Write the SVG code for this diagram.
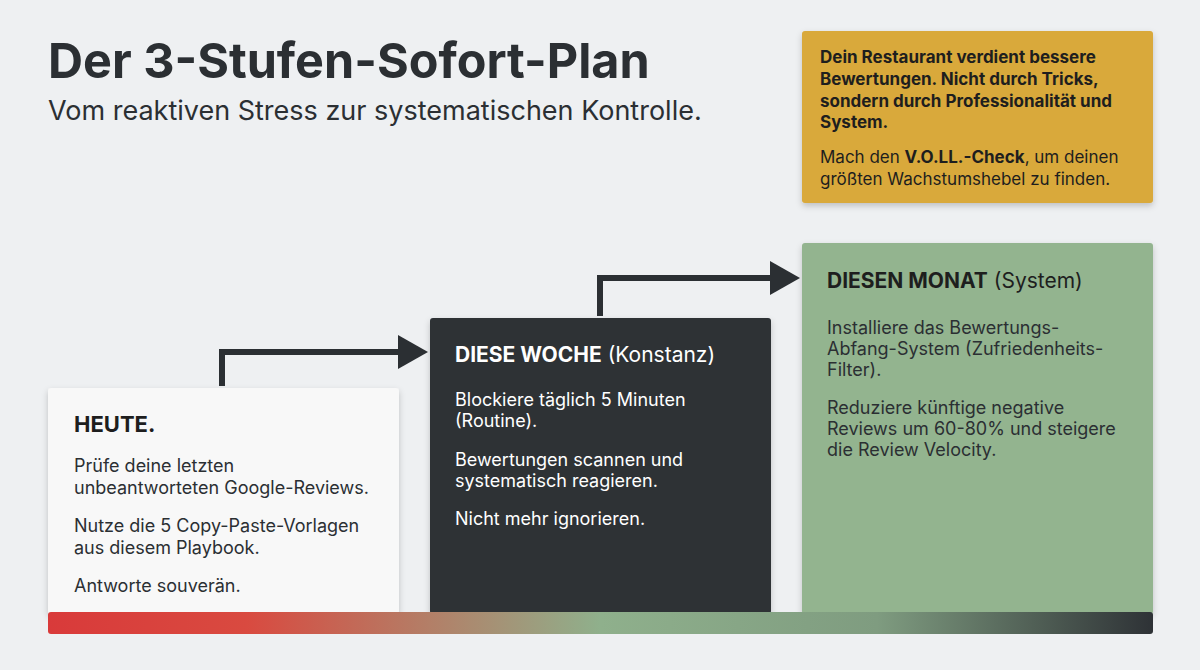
<svg xmlns="http://www.w3.org/2000/svg" width="1200" height="670" viewBox="0 0 1200 670">
<defs>
<linearGradient id="g" x1="0" x2="1" y1="0" y2="0">
<stop offset="0" stop-color="#d93a3a"/><stop offset="0.18" stop-color="#d94a40"/><stop offset="0.5" stop-color="#8fb08c"/><stop offset="0.75" stop-color="#7f9c80"/><stop offset="1" stop-color="#2e3236"/>
</linearGradient>
<marker id="ah" markerWidth="30" markerHeight="34" refX="2" refY="17" orient="auto" markerUnits="userSpaceOnUse" viewBox="0 0 30 34"><path d="M0,0 L30,17 L0,34 z" fill="#2b2f33"/></marker>
<filter id="sh" x="-10%" y="-10%" width="120%" height="130%"><feDropShadow dx="0" dy="3" stdDeviation="3" flood-opacity="0.2"/></filter>
</defs>
<style>
text{font-family:Inter,"Liberation Sans",sans-serif;}
.b{font-size:18px;fill:#2b2f33}
.w{font-size:18px;fill:#ffffff}
.yb{font-size:17px;font-weight:bold;fill:#1e1e1e}
.yn{font-size:17px;fill:#1e1e1e}
</style>
<rect width="1200" height="670" fill="#eef0f2"/>
<text x="48" y="78" font-size="48.5" font-weight="bold" fill="#2b2f33">Der 3-Stufen-Sofort-Plan</text>
<text x="48" y="120" font-size="27" fill="#2b2f33">Vom reaktiven Stress zur systematischen Kontrolle.</text>
<g id="cta">
<rect x="802" y="31" width="351" height="172" rx="3" fill="#d9a93a" filter="url(#sh)"/>
<text class="yb" x="820" y="63">Dein Restaurant verdient bessere</text>
<text class="yb" x="820" y="85">Bewertungen. Nicht durch Tricks,</text>
<text class="yb" x="820" y="107">sondern durch Professionalität und</text>
<text class="yb" x="820" y="128">System.</text>
<text class="yn" x="820" y="163">Mach den <tspan font-weight="bold">V.O.LL.-Check</tspan>, um deinen</text>
<text class="yn" x="820" y="185">größten Wachstumshebel zu finden.</text>
</g>
<g id="connectors" fill="none" stroke="#2b2f33" stroke-width="6">
<path d="M222,386 V352 H400" marker-end="url(#ah)"/>
<path d="M600,316 V278 H772" marker-end="url(#ah)"/>
</g>
<g id="heute">
<rect x="48" y="388" width="351" height="226" rx="3" fill="#f8f8f8" filter="url(#sh)"/>
<text x="74" y="432" font-size="22" font-weight="bold" fill="#1e1e1e">HEUTE.</text>
<text class="b" x="74" y="472">Prüfe deine letzten</text>
<text class="b" x="74" y="494">unbeantworteten Google-Reviews.</text>
<text class="b" x="74" y="532">Nutze die 5 Copy-Paste-Vorlagen</text>
<text class="b" x="74" y="554">aus diesem Playbook.</text>
<text class="b" x="74" y="592">Antworte souverän.</text>
</g>
<g id="woche">
<rect x="430" y="318" width="341" height="296" rx="3" fill="#2e3236" filter="url(#sh)"/>
<text x="455" y="362" font-size="21" fill="#ffffff"><tspan font-weight="bold">DIESE WOCHE</tspan> (Konstanz)</text>
<text class="w" x="455" y="406">Blockiere täglich 5 Minuten</text>
<text class="w" x="455" y="427">(Routine).</text>
<text class="w" x="455" y="466">Bewertungen scannen und</text>
<text class="w" x="455" y="487">systematisch reagieren.</text>
<text class="w" x="455" y="525">Nicht mehr ignorieren.</text>
</g>
<g id="monat">
<rect x="802" y="243" width="351" height="371" rx="3" fill="#93b48f" filter="url(#sh)"/>
<text x="827" y="288" font-size="21" fill="#1e1e1e"><tspan font-weight="bold">DIESEN MONAT</tspan> (System)</text>
<text class="b" x="827" y="334">Installiere das Bewertungs-</text>
<text class="b" x="827" y="355">Abfang-System (Zufriedenheits-</text>
<text class="b" x="827" y="376">Filter).</text>
<text class="b" x="827" y="414">Reduziere künftige negative</text>
<text class="b" x="827" y="435">Reviews um 60-80% und steigere</text>
<text class="b" x="827" y="456">die Review Velocity.</text>
</g>
<rect x="48" y="612" width="1105" height="22" rx="3" fill="url(#g)"/>
</svg>
